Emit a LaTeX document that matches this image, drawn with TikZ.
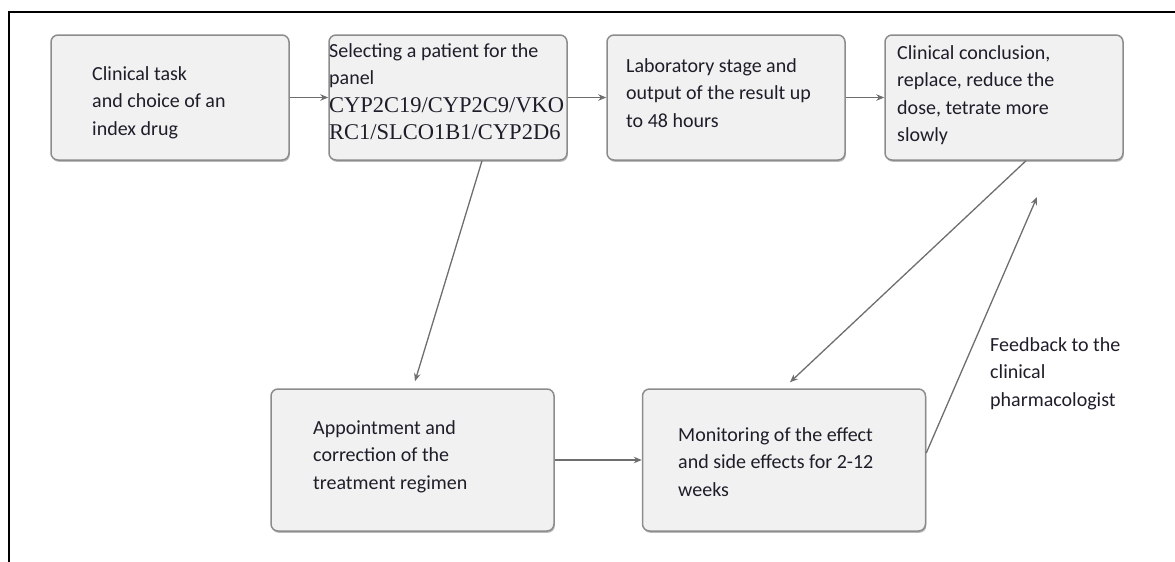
\documentclass[tikz,border=0pt]{standalone}
\usepackage{fontspec}
\setmainfont{Carlito}
\newfontfamily\codefont{Liberation Serif}
\usetikzlibrary{arrows.meta,shadows}
\definecolor{boxfill}{HTML}{F1F1F1}
\definecolor{boxline}{HTML}{8C8C8C}
\definecolor{linkgray}{HTML}{6E6E6E}
\definecolor{inkdark}{HTML}{1E1E2A}

\begin{document}
\begin{tikzpicture}[
        x=1pt, y=-1pt,
        stage/.style = {draw=boxline, fill=boxfill, rounded corners=7pt, line width=1.5pt, inner sep=0pt,
            minimum width=238pt, minimum height=125pt,
            drop shadow={shadow xshift=0.8pt, shadow yshift=-1.8pt, fill=black!45, opacity=0.6}},
        widestage/.style = {stage, minimum width=283pt, minimum height=142pt},
        txt/.style = {anchor=north west, inner sep=0pt, align=left, text=inkdark, font=\fontsize{20}{27.5}\selectfont},
        flow/.style = {draw=linkgray, line width=1.3pt, -{Stealth[length=8pt,width=6.5pt]}}
    ]
    \useasboundingbox (0,0) rectangle (1175,562);
    \draw[line width=2pt] (9,562) -- (9,12) -- (1175,12);

    \node[stage] (task) at (170,97.5) {};
    \node[stage] (panel) at (448,97.5) {};
    \node[stage] (lab) at (726,97.5) {};
    \node[stage] (concl) at (1004,97.5) {};
    \node[widestage] (appoint) at (412.5,460) {};
    \node[widestage] (monitor) at (784,460) {};

    \node[txt] (tasktext) at (92,66) {Clinical task\\and choice of an\\index drug};
    \node[txt] (paneltext) at (329,43) {Selecting a patient for the\\panel\\
        {\codefont\fontsize{22.5}{27.5}\selectfont CYP2C19/CYP2C9/VKO}\\
        {\codefont\fontsize{22.5}{27.5}\selectfont RC1/SLCO1B1/CYP2D6}};
    \node[txt] (labtext) at (626,58) {Laboratory stage and\\output of the result up\\to 48 hours};
    \node[txt] (concltext) at (897,45) {Clinical conclusion,\\replace, reduce the\\dose, tetrate more\\slowly};
    \node[txt] (appointtext) at (313,420) {Appointment and\\correction of the\\treatment regimen};
    \node[txt] (monitortext) at (678,427) {Monitoring of the effect\\and side effects for 2-12\\weeks};
    \node[txt] (feedback) at (990,337) {Feedback to the\\clinical\\pharmacologist};
    \coordinate (fbtip) at (1037,197);

    \draw[flow] (task) -- (panel);
    \draw[flow] (panel) -- (lab);
    \draw[flow] (lab) -- (concl);
    \draw[flow] ([xshift=34pt]panel.south) -- ([xshift=2.5pt,yshift=7pt]appoint.north);
    \draw[flow] ([xshift=22pt]concl.south) -- ([xshift=6pt,yshift=6pt]monitor.north);
    \draw[flow] (appoint) -- (monitor);
    \draw[flow] ([yshift=7pt]monitor.east) -- (fbtip);

\end{tikzpicture}
\end{document}
